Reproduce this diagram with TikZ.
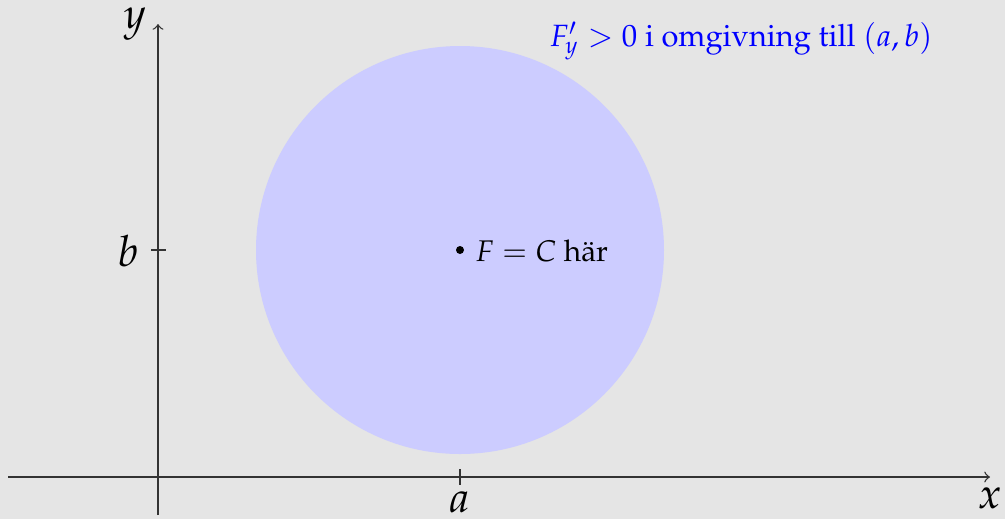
\documentclass[tikz,border=0pt]{standalone}
\usepackage[T1]{fontenc}
\usepackage{mathpazo}
\begin{document}
\begin{tikzpicture}[x=0.011760cm,y=-0.011760cm,
  axis/.style={draw=black!80,line width=0.45pt},
  lbl/.style={inner sep=0pt,font=\normalsize},
  axlbl/.style={inner sep=0pt,font=\Large}]
\fill[black!10] (0,0) rectangle (1005,519);
\useasboundingbox (0,0) rectangle (1005,519);
\coordinate (C) at (460,250);
\fill[blue!20] (C) circle (204);
% axes
\coordinate (xs) at (8,477);
\coordinate (xe) at (990,477);
\coordinate (ys) at (158,515);
\coordinate (ye) at (158,24);
\draw[axis,->] (xs) -- (xe);
\draw[axis,->] (ys) -- (ye);
% ticks
\coordinate (bt1) at (151,250); \coordinate (bt2) at (166,250);
\coordinate (at1) at (460,469); \coordinate (at2) at (460,485);
\draw[axis] (bt1) -- (bt2);
\draw[axis] (at1) -- (at2);
% labels
\node[axlbl] (ylab) at (135,24) {$y$};
\node[axlbl] (xlab) at (990,498) {$x$};
\node[axlbl] (blab) at (128,251) {$b$};
\node[axlbl] (alab) at (460,502) {$a$};
\fill (C) circle (4);
\node[lbl,anchor=west] (FC) at (475,251) {$F=C$ h\"ar};
\node[lbl,anchor=east,text=blue,scale=1.03] (top) at (933,41) {$F'_y>0$ i omgivning till $(a,b)$};
\end{tikzpicture}
\end{document}
